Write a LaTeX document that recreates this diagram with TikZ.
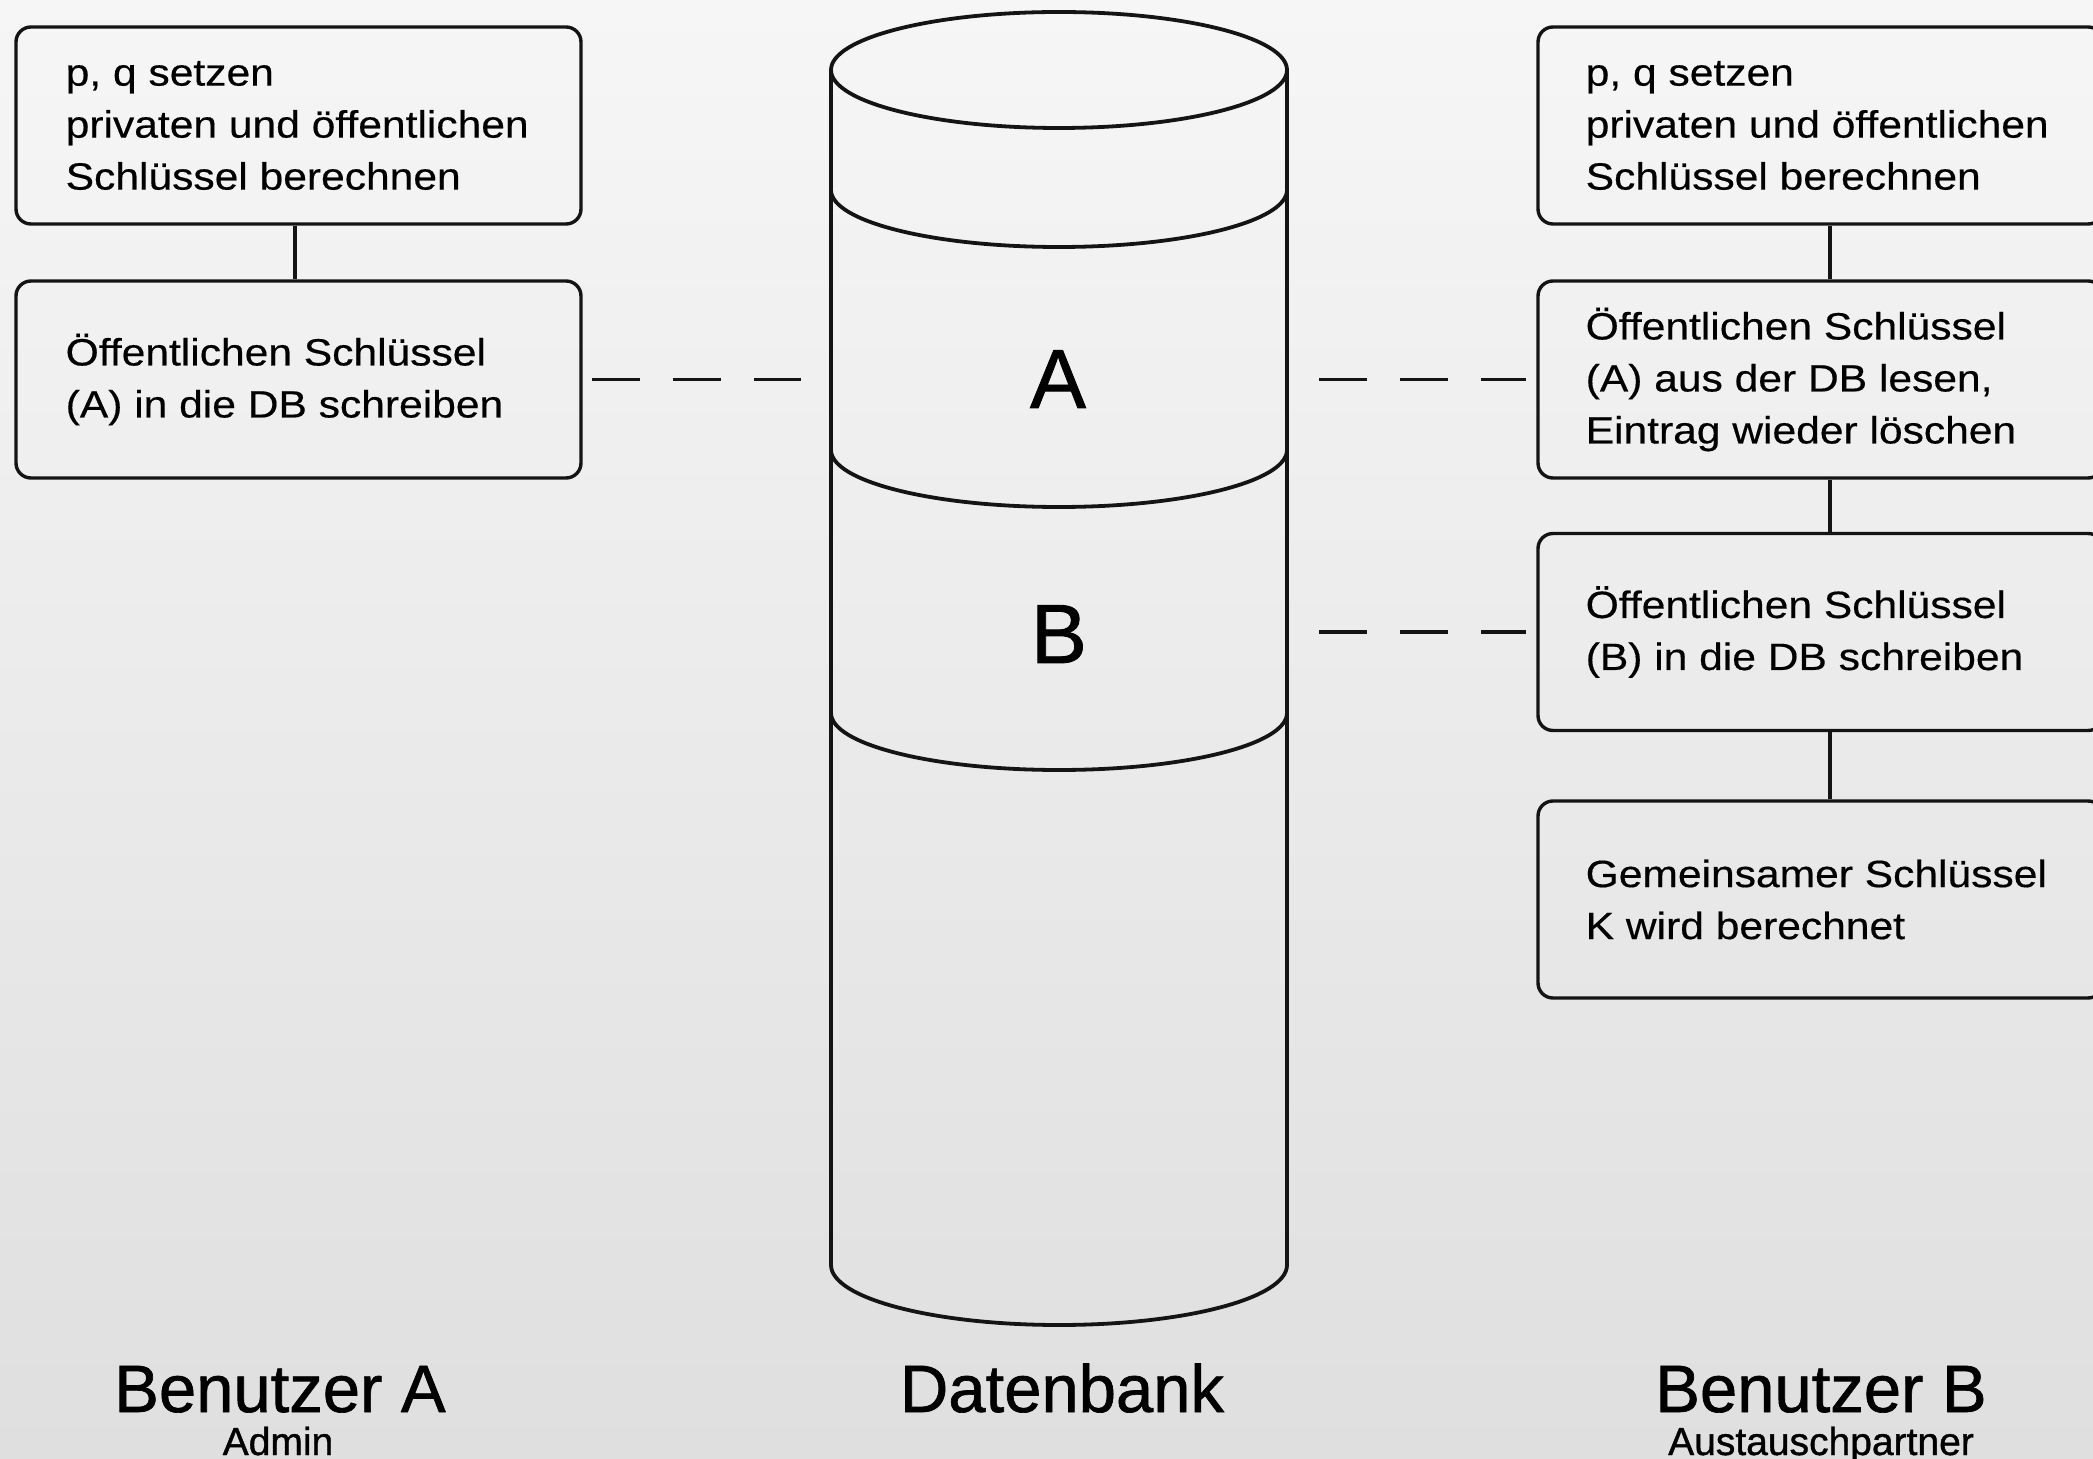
\documentclass[tikz,border=0pt]{standalone}
\usepackage{fontspec}
\setmainfont{Liberation Sans}[FakeStretch=1.12, RawFeature={embolden=0.4}]
\newfontfamily\lblfont{Liberation Sans}[RawFeature={embolden=1.0}]
\definecolor{bgtop}{HTML}{F6F6F6}
\definecolor{bgbot}{HTML}{DFDFDF}
\definecolor{ink}{HTML}{141414}
\begin{document}
\begin{tikzpicture}[x=0.5pt,y=-0.5pt,
  box/.style={draw=ink, line width=1.7pt, rounded corners=7.5pt, minimum width=282.5pt, minimum height=98.5pt, inner sep=0pt},
  txt/.style={anchor=west, align=left, inner sep=0pt, text=black, font=\fontsize{19pt}{26pt}\selectfont},
  conn/.style={line width=1.7pt, draw=ink},
  dashline/.style={line width=1.6pt, draw=ink, dash pattern=on 24pt off 16.5pt},
  cyl/.style={line width=1.9pt, draw=ink},
  big/.style={font=\lblfont\fontsize{33.5pt}{40pt}\selectfont, anchor=base, inner sep=0pt, text=black},
  sub/.style={font=\lblfont\fontsize{19.5pt}{24pt}\selectfont, anchor=base, inner sep=0pt, text=black},
  letter/.style={font=\lblfont\fontsize{42pt}{48pt}\selectfont, anchor=base, inner sep=0pt, text=black}]

\useasboundingbox (0,0) rectangle (2093,1459);
\clip (0,0) rectangle (2093,1459);
\shade[top color=bgtop, bottom color=bgbot] (0,0) rectangle (2093,1459);

% ---------- Benutzer A ----------
\node[box] (la1) at (298.5,125.5) {};
\node[txt] (la1t) at ([xshift=25.5pt]la1.west) {p, q setzen\\privaten und öffentlichen\\Schlüssel berechnen};
\node[box] (la2) at (298.5,379.5) {};
\node[txt] (la2t) at ([xshift=25.5pt]la2.west) {Öffentlichen Schlüssel\\(A) in die DB schreiben};
\coordinate (xL) at (295,0);
\draw[conn] (la1.south -| xL) -- (la2.north -| xL);

% ---------- Benutzer B ----------
\node[box] (rb1) at (1820.5,125.5) {};
\node[txt] (rb1t) at ([xshift=24.5pt]rb1.west) {p, q setzen\\privaten und öffentlichen\\Schlüssel berechnen};
\node[box] (rb2) at (1820.5,379.5) {};
\node[txt] (rb2t) at ([xshift=24.5pt]rb2.west) {Öffentlichen Schlüssel\\(A) aus der DB lesen,\\Eintrag wieder löschen};
\node[box] (rb3) at (1820.5,632) {};
\node[txt] (rb3t) at ([xshift=24.5pt]rb3.west) {Öffentlichen Schlüssel\\(B) in die DB schreiben};
\node[box] (rb4) at (1820.5,899.5) {};
\node[txt] (rb4t) at ([xshift=24.5pt]rb4.west) {Gemeinsamer Schlüssel\\K wird berechnet};
\coordinate (xR) at (1830,0);
\draw[conn] (rb1.south -| xR) -- (rb2.north -| xR);
\draw[conn] (rb2.south -| xR) -- (rb3.north -| xR);
\draw[conn] (rb3.south -| xR) -- (rb4.north -| xR);

% ---------- Datenbank (cylinder) ----------
\coordinate (cylL) at (831,70);
\coordinate (cylR) at (1287,70);
\draw[cyl] (1059,70) ellipse [x radius=114pt, y radius=29pt];
\draw[cyl] (831,70) -- (831,1265);
\draw[cyl] (1287,70) -- (1287,1265);
\draw[cyl] (831,190) arc[start angle=180, end angle=360, x radius=114pt, y radius=28.5pt];
\draw[cyl] (831,450) arc[start angle=180, end angle=360, x radius=114pt, y radius=28.5pt];
\draw[cyl] (831,713) arc[start angle=180, end angle=360, x radius=114pt, y radius=28.5pt];
\draw[cyl] (831,1265) arc[start angle=180, end angle=360, x radius=114pt, y radius=30pt];
\node[letter] (la) at (1058,408) {A};
\node[letter] (lb) at (1059,663) {B};

% ---------- dashed connections ----------
\draw[dashline, shorten <=4.5pt, shorten >=15pt] (la2.east) -- (la2.east -| cylL);
\draw[dashline, shorten <=16pt, shorten >=5pt] (rb2.west -| cylR) -- (rb2.west);
\draw[dashline, shorten <=16pt, shorten >=5pt] (rb3.west -| cylR) -- (rb3.west);

% ---------- labels ----------
\node[big] (benA) at (280,1412) {Benutzer A};
\node[sub] (admin) at (278,1455) {Admin};
\node[big] (dbl) at (1062,1412) {Datenbank};
\node[big] (benB) at (1821,1412) {Benutzer B};
\node[sub] (partner) at (1821,1455) {Austauschpartner};
\end{tikzpicture}
\end{document}
